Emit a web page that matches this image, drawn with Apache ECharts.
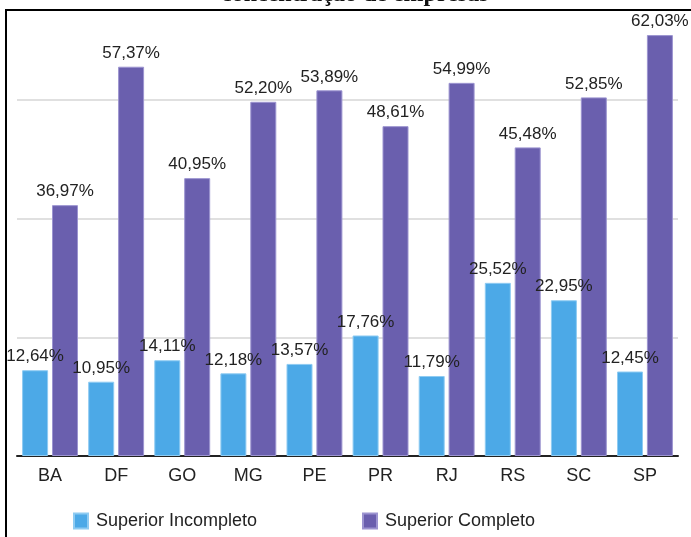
<!DOCTYPE html>
<html>
<head>
<meta charset="utf-8">
<script src="https://cdn.jsdelivr.net/npm/echarts@6/dist/echarts.min.js"></script>
<style>
  html, body { margin: 0; padding: 0; background: #fff; }
  #chart { width: 691px; height: 537px; }
</style>
</head>
<body>
<div id="chart"></div>
<script>
// Estados (UF)
const categories = ['BA', 'DF', 'GO', 'MG', 'PE', 'PR', 'RJ', 'RS', 'SC', 'SP'];
// Percentual com superior incompleto
const superiorIncompleto = [12.64, 10.95, 14.11, 12.18, 13.57, 17.76, 11.79, 25.52, 22.95, 12.45];
// Percentual com superior completo
const superiorCompleto = [36.97, 57.37, 40.95, 52.20, 53.89, 48.61, 54.99, 45.48, 52.85, 62.03];
const seriesNames = ['Superior Incompleto', 'Superior Completo'];
const titleText = 'concentração de empresas';

const fmt = v => v.toFixed(2).replace('.', ',') + '%';

const labelStyle = {
  show: true,
  position: 'top',
  distance: 5,
  color: '#222',
  fontFamily: 'Liberation Sans, Arial, sans-serif',
  fontSize: 17,
  formatter: p => fmt(p.value)
};

const legendText = { color: '#222', fontSize: 18, fontFamily: 'Liberation Sans, Arial, sans-serif', padding: [0, 0, 0, 3] };

const chart = echarts.init(document.getElementById('chart'), null, { renderer: 'canvas' });
chart.setOption({
  animation: false,
  backgroundColor: '#fff',
  graphic: [
    {
      type: 'text',
      left: 221,
      top: -17,
      style: {
        text: titleText,
        fontFamily: 'Liberation Serif, Times New Roman, serif',
        fontSize: 24,
        fontWeight: 'bold',
        fill: '#111'
      }
    },
    {
      type: 'line',
      shape: { x1: 6, y1: 10, x2: 691, y2: 10 },
      style: { stroke: '#000', lineWidth: 2 }
    },
    {
      type: 'line',
      shape: { x1: 6, y1: 9, x2: 6, y2: 537 },
      style: { stroke: '#000', lineWidth: 2 }
    }
  ],
  legend: [
    {
      data: [seriesNames[0]],
      left: 68, top: 507,
      itemWidth: 14, itemHeight: 15,
      icon: 'rect',
      selectedMode: false,
      textStyle: legendText
    },
    {
      data: [seriesNames[1]],
      left: 357, top: 507,
      itemWidth: 14, itemHeight: 15,
      icon: 'rect',
      selectedMode: false,
      textStyle: legendText
    }
  ],
  grid: { left: 17, right: 13, top: 0, bottom: 81, containLabel: false },
  xAxis: {
    type: 'category',
    data: categories,
    axisLine: { lineStyle: { color: '#222', width: 2 } },
    axisTick: { show: false },
    axisLabel: { color: '#222', fontSize: 18, margin: 11, fontFamily: 'Liberation Sans, Arial, sans-serif' }
  },
  yAxis: {
    type: 'value',
    min: 0, max: 67.2, interval: 17.5,
    axisLine: { show: false },
    axisTick: { show: false },
    axisLabel: { show: false },
    splitLine: { showMaxLine: false, lineStyle: { color: '#d6d6d6', width: 1.5 } }
  },
  series: [
    {
      name: seriesNames[0],
      type: 'bar',
      data: superiorIncompleto,
      barWidth: 26,
      barGap: '15%',
      itemStyle: { color: '#4ca9e7', borderColor: '#8ecbf2', borderWidth: 1 },
      label: labelStyle
    },
    {
      name: seriesNames[1],
      type: 'bar',
      data: superiorCompleto,
      barWidth: 26,
      barGap: '15%',
      itemStyle: { color: '#6a5fae', borderColor: '#9c94d0', borderWidth: 1 },
      label: labelStyle
    }
  ]
});
</script>
</body>
</html>
